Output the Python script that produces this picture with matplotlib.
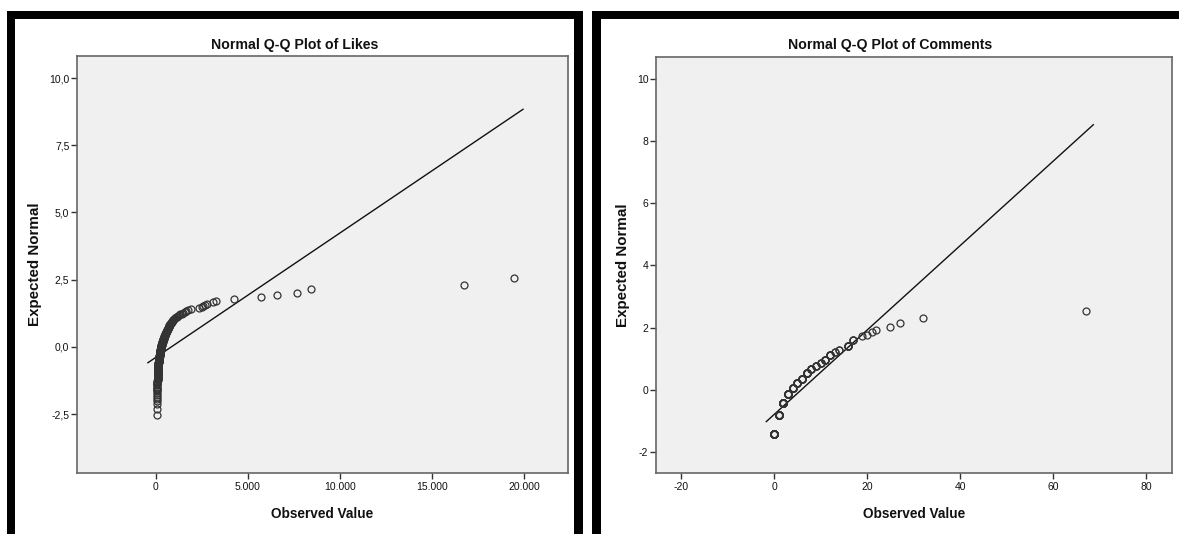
import numpy as np
import matplotlib
matplotlib.use("Agg")
import matplotlib.pyplot as plt
from matplotlib.patches import Rectangle
from statistics import NormalDist

# ---------------- data ----------------
likes = [45, 49, 53, 55, 57, 59, 62, 65,
         66, 68, 69, 71, 72, 74, 75, 77, 78, 80,
         81, 83, 84, 86, 87, 89, 90, 92, 93, 95,
         96, 98, 99, 101, 102, 104, 105, 107, 108, 110,
         112, 114, 116, 118, 120, 122, 124, 126, 128, 130,
         132, 134, 136, 138, 140, 142, 144, 146, 148, 150,
         154, 158, 162, 166, 170, 174, 178, 182, 186, 190,
         193, 196, 199, 202, 205, 208, 211, 214, 217, 220,
         224, 228, 232, 236, 240, 244, 249, 253, 257, 261, 265, 270,
         274, 278, 282, 286, 290, 293, 296, 300,
         306, 312, 318, 324, 330, 336, 342, 348, 354, 360,
         367, 374, 381, 388, 395, 402, 409, 416, 423, 430,
         439, 448, 457, 466, 475, 484, 493, 502, 511, 520,
         531, 542, 553, 564, 575, 586, 597, 608, 619, 630,
         643, 656, 669, 682, 695, 708, 721, 734, 747, 760,
         782, 804, 826, 848, 870, 892, 914, 936, 958, 980,
         1030, 1080, 1130, 1190, 1250,
         1330, 1400, 1480, 1560, 1630, 1760, 1890, 2360, 2480, 2570,
         2660, 2760, 3120, 3260, 4240, 5690, 6570, 7680, 8410, 16740, 19460]

comment_values = [0, 1, 2, 3, 4, 5, 6, 7, 8, 9, 10, 11, 12, 13, 14, 16, 17,
                  19, 20, 21, 22, 25, 27, 32, 67]
comment_counts = [27, 22, 26, 16, 12, 10, 10, 12, 6, 5, 4, 6, 7, 2, 2, 6, 3,
                  1, 1, 1, 1, 1, 1, 1, 1]

titles = ["Normal Q-Q Plot of Likes", "Normal Q-Q Plot of Comments"]
x_label = "Observed Value"
y_label = "Expected Normal"

likes_xticks = [0, 5000, 10000, 15000, 20000]
likes_xticklabels = ["0", "5.000", "10.000", "15.000", "20.000"]
likes_yticks = [-2.5, 0.0, 2.5, 5.0, 7.5, 10.0]
likes_yticklabels = ["-2,5", "0,0", "2,5", "5,0", "7,5", "10,0"]

comm_xticks = [-20, 0, 20, 40, 60, 80]
comm_xticklabels = ["-20", "0", "20", "40", "60", "80"]
comm_yticks = [-2, 0, 2, 4, 6, 8, 10]
comm_yticklabels = ["-2", "0", "2", "4", "6", "8", "10"]


def qq(values):
    v = np.sort(np.asarray(values, dtype=float))
    n = len(v)
    ranks = np.arange(1, n + 1)
    uniq, inv = np.unique(v, return_inverse=True)
    mean_rank = np.bincount(inv, weights=ranks) / np.bincount(inv)
    p = mean_rank[inv] / (n + 1)
    nd = NormalDist()
    z = np.array([nd.inv_cdf(pi) for pi in p])
    return v, z


def ref_line(values):
    v = np.asarray(values, dtype=float)
    m, s = v.mean(), v.std(ddof=1)
    rng = v.max() - v.min()
    xs = np.array([v.min() - 0.025 * rng, v.max() + 0.025 * rng])
    return xs, (xs - m) / s


# ---------------- figure ----------------
W, H = 1179, 534
fig = plt.figure(figsize=(W / 100, H / 100), dpi=100)
fig.patch.set_facecolor("white")

FONT = ["Liberation Sans", "DejaVu Sans"]
plt.rcParams["font.family"] = FONT


def px_rect(x0, y0, x1, y1, **kw):
    fig.add_artist(Rectangle((x0 / W, 1 - y1 / H), (x1 - x0) / W, (y1 - y0) / H,
                             transform=fig.transFigure, facecolor="black",
                             edgecolor="none", **kw))

# black frames
px_rect(7, 11, 583, 19)
px_rect(7, 11, 15, 534)
px_rect(574, 11, 583, 534)
px_rect(592, 11, 1179, 19)
px_rect(592, 11, 601, 534)


def ax_px(x0, y0, x1, y1):
    return fig.add_axes([x0 / W, 1 - y1 / H, (x1 - x0) / W, (y1 - y0) / H])

ax1 = ax_px(77, 56, 568, 473)
ax2 = ax_px(656, 57, 1172, 473)

datasets = [
    (ax1, likes, (-4293, 22391), (-4.69, 10.82),
     likes_xticks, likes_xticklabels, likes_yticks, likes_yticklabels, 294.5),
    (ax2, np.repeat(comment_values, comment_counts), (-25.4, 85.6), (-2.68, 10.71),
     comm_xticks, comm_xticklabels, comm_yticks, comm_yticklabels, 890.0),
]

for (ax, vals, xl, yl, xt, xtl, yt, ytl, title_x), title in zip(datasets, titles):
    ax.set_facecolor("#F0F0F0")
    xv, zv = qq(vals)
    lx, lz = ref_line(vals)
    ax.plot(lx, lz, color="#111111", lw=1.0, zorder=2)
    ax.plot(xv, zv, linestyle="none", marker="o", markersize=5.0,
            markerfacecolor="none", markeredgecolor="#333333",
            markeredgewidth=0.9, zorder=3)
    ax.set_xlim(*xl)
    ax.set_ylim(*yl)
    ax.set_xticks(xt)
    ax.set_xticklabels(xtl)
    ax.set_yticks(yt)
    ax.set_yticklabels(ytl)
    for sp in ["top", "right", "bottom", "left"]:
        ax.spines[sp].set_color("#666666")
        ax.spines[sp].set_linewidth(1.2)
    ax.tick_params(axis="both", direction="out", length=4, width=1.0,
                   color="#333333", labelsize=7.5, labelcolor="#111111")
    ax.tick_params(axis="x", pad=2.5)
    ax.tick_params(axis="y", pad=1.5)
    ax.set_xlabel(x_label, fontsize=9.8, fontweight="bold", color="#111111")
    ax.set_ylabel(y_label, fontsize=10.9, fontweight="bold", color="#111111")
    ax.xaxis.set_label_coords(0.5, -0.0976)
    fig.text(title_x / W, 1 - 44.5 / H, title, ha="center", va="center",
             fontsize=10.2, fontweight="bold", color="#111111")

ax1.yaxis.set_label_coords((35 - 77) / 491, 0.5)
ax2.yaxis.set_label_coords((623 - 656) / 516, 0.5)
for ax in (ax1, ax2):
    ax.yaxis.label.set_va("center")
    ax.xaxis.label.set_va("center")

fig.savefig("out.png", dpi=100, facecolor="white")
